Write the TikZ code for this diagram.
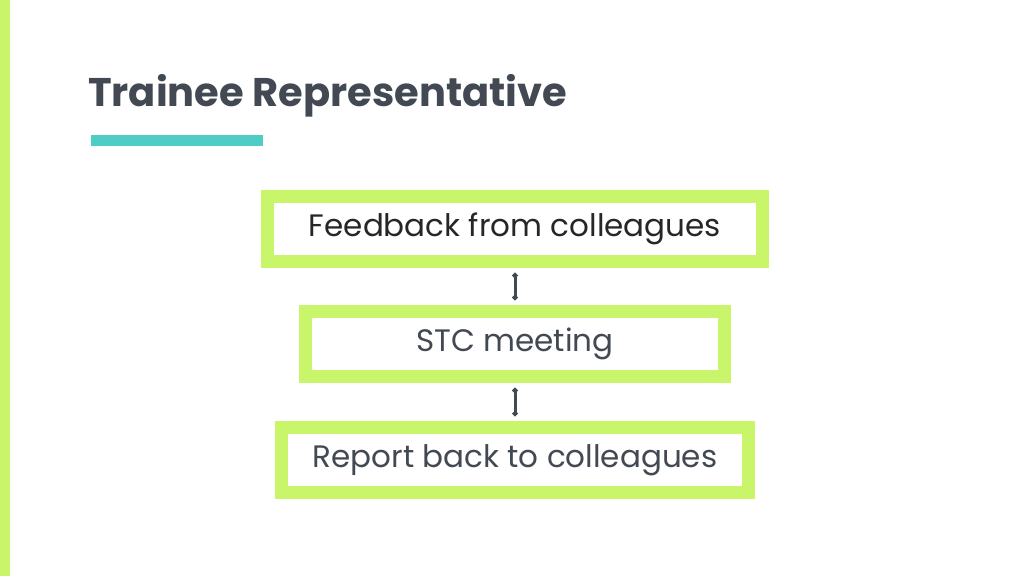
\documentclass[tikz,border=0pt]{standalone}
\usepackage{fontspec}
\setmainfont{Poppins}
\usetikzlibrary{arrows.meta}
\definecolor{lime}{HTML}{C8F56A}
\definecolor{teal}{HTML}{4ECDC4}
\definecolor{slate}{HTML}{424953}
\begin{document}
\begin{tikzpicture}[x=1pt,y=-1pt,
  box/.style={draw=lime,line width=13pt,fill=white,inner sep=0pt,font=\fontsize{31}{36}\selectfont},
  conn/.style={draw=slate,line width=3pt,{Circle[length=5pt]}-{Circle[length=5pt]}}]
\useasboundingbox (0,0) rectangle (1024,576);
\fill[white] (0,0) rectangle (1024,576);
\fill[lime] (0,0) rectangle (10,576);
\node[anchor=base west,text=slate,font=\bfseries\fontsize{40}{46}\selectfont,inner sep=0pt] (title) at (88,106) {Trainee Representative};
\fill[teal] (91,135) rectangle (263,146);
\node[box,minimum width=495pt,minimum height=65pt,text=black!85] (a) at (515,229) {Feedback from colleagues};
\node[box,minimum width=419pt,minimum height=65pt,text=slate] (b) at (515,344) {STC meeting};
\node[box,minimum width=467pt,minimum height=65pt,text=slate] (c) at (515,460) {Report back to colleagues};
\draw[conn] ([yshift=-5pt]a.south) -- ([yshift=5pt]b.north);
\draw[conn] ([yshift=-5pt]b.south) -- ([yshift=5pt]c.north);
\end{tikzpicture}
\end{document}
